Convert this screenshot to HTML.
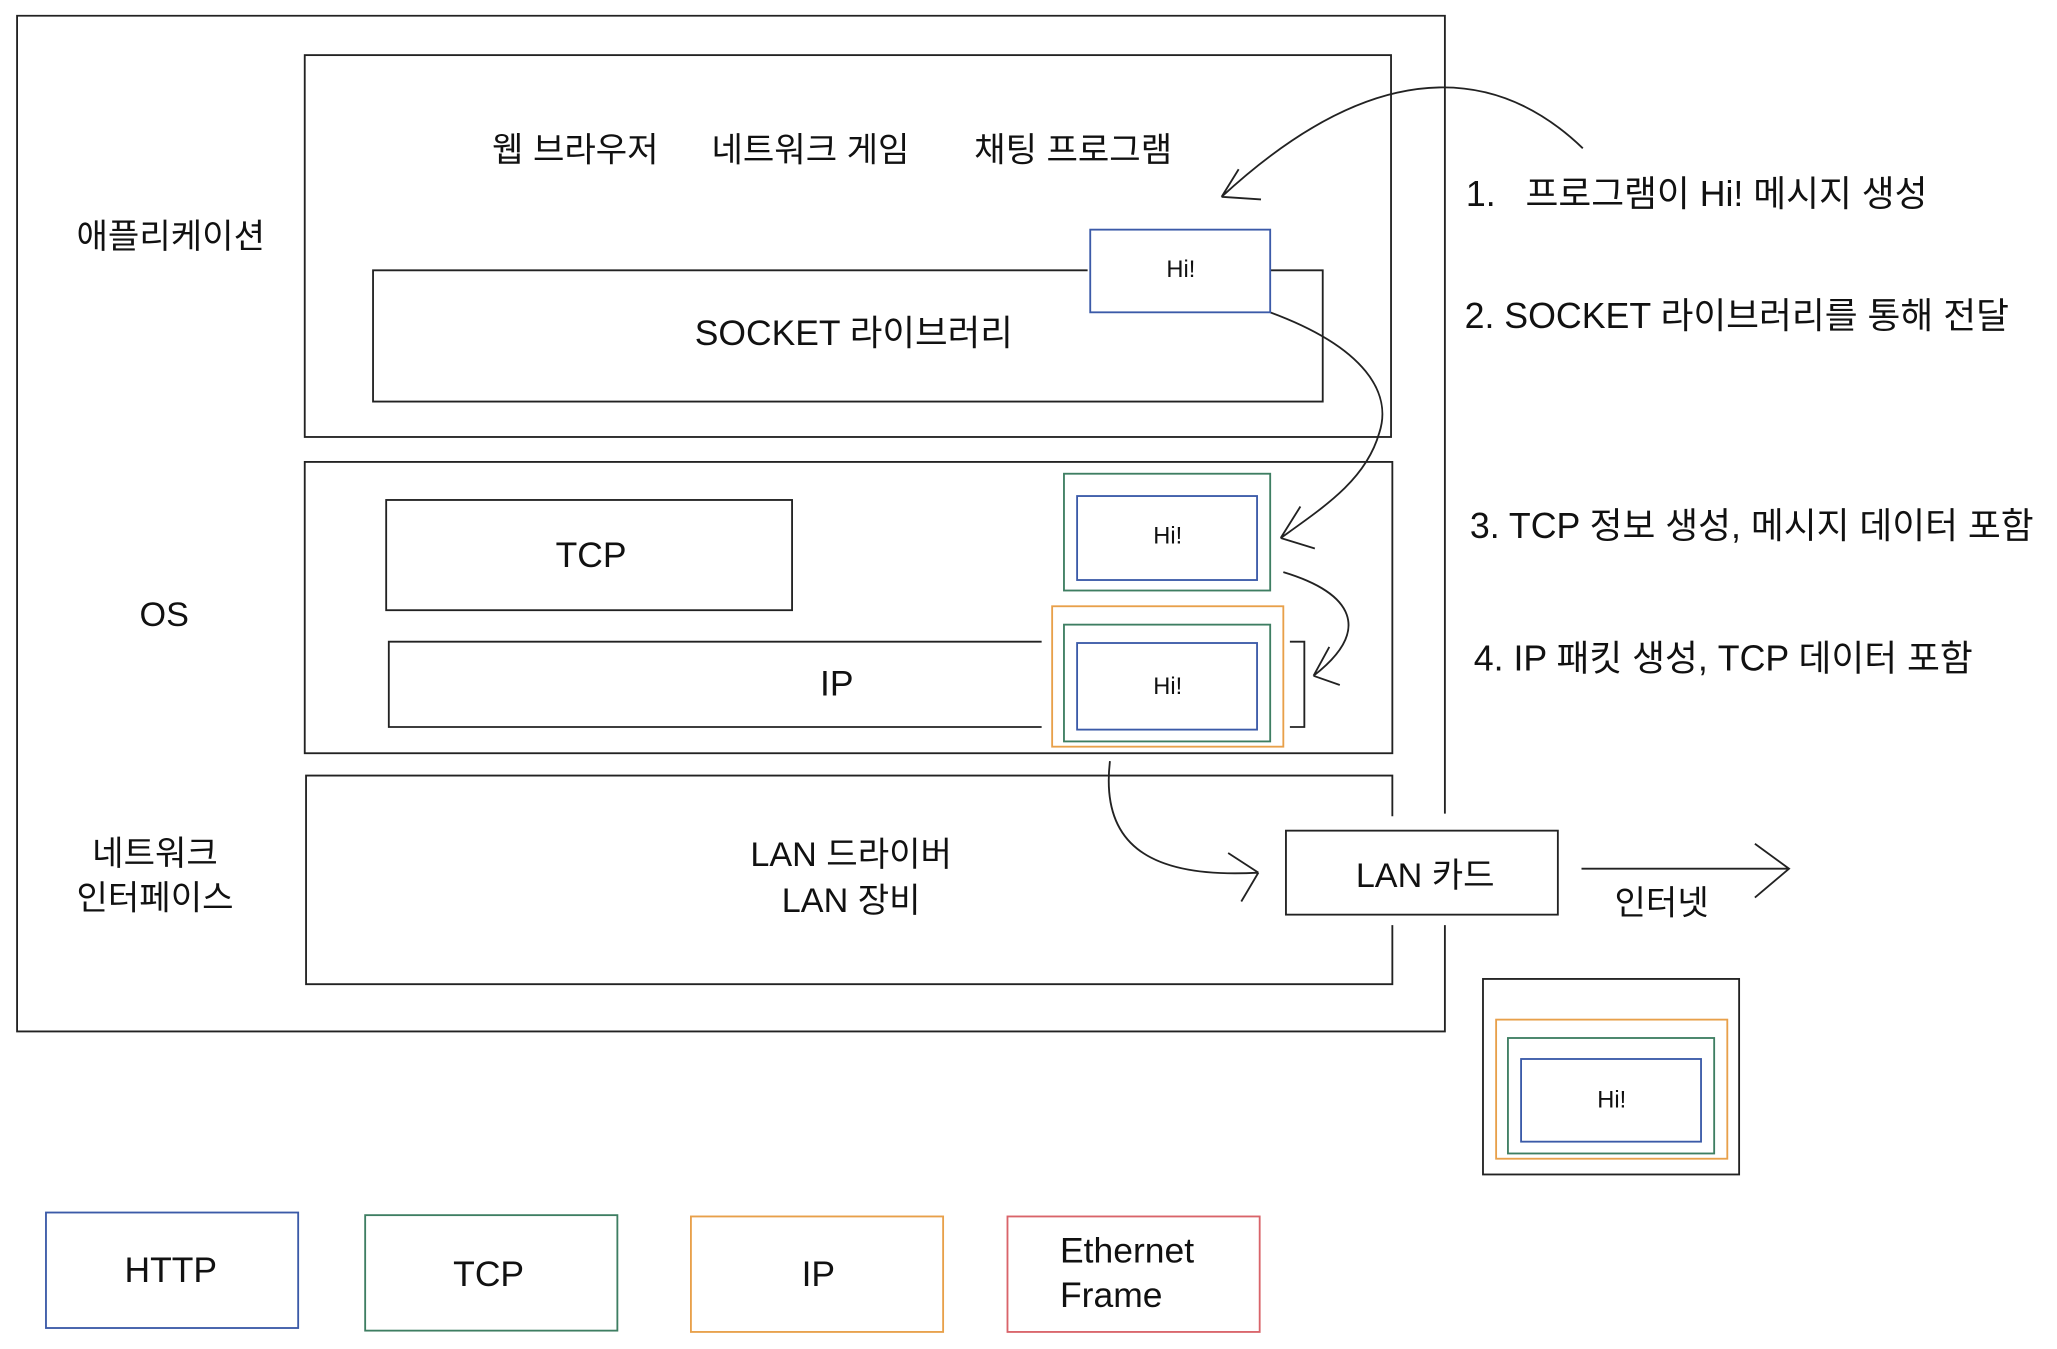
<!DOCTYPE html>
<html><head><meta charset="utf-8"><style>
html,body{margin:0;padding:0;background:#fff;}
svg{display:block;}
text{font-family:"Liberation Sans","Noto Sans CJK KR",sans-serif;fill:#111;}
</style></head><body>
<svg width="2057" height="1349" viewBox="0 0 1566 1028" preserveAspectRatio="none" xmlns="http://www.w3.org/2000/svg">
<g fill="none" stroke="#222" stroke-width="1.4">
<path d="M1100,620 L1100,12 L13,12 L13,786 L1100,786 L1100,705"/>
<rect x="232" y="42" width="827" height="291"/>
<path d="M828,206 L284,206 L284,306 L1007,306 L1007,206 L967,206"/>
<rect x="232" y="352" width="828" height="222"/>
<rect x="294" y="381" width="309" height="84"/>
<path d="M793,489 L296,489 L296,554 L793,554"/>
<path d="M982,489 L993,489 L993,554 L982,554"/>
<path d="M1060,622 L1060,591 L233,591 L233,750 L1060,750 L1060,705"/>
<rect x="979" y="633" width="207" height="64"/>
<path d="M1204,662 L1362,662 M1336,643 L1362,662 L1336,684"/>
<rect x="1129" y="746" width="195" height="149"/>
<path d="M1205,113 C1150,60 1060,30 930,150 M930,150 L943,129 M930,150 L960,152"/>
<path d="M967,238 C1040,265 1060,300 1050,330 C1040,365 1010,385 975,410 M975,410 L990,386 M975,410 L1001,418"/>
<path d="M977,436 C1030,452 1045,480 1000,515 M1000,515 L1012,493 M1000,515 L1020,522"/>
<path d="M845,580 C838,640 870,670 958,665 M958,665 L935,650 M958,665 L945,687"/>
</g>
<g fill="none" stroke-width="1.4">
<rect x="830" y="175" width="137" height="63" stroke="#3b5aa8"/>
<rect x="810" y="361" width="157" height="89" stroke="#3e7e62"/>
<rect x="820" y="378" width="137" height="64" stroke="#3b5aa8"/>
<rect x="801" y="462" width="176" height="107" stroke="#e8a04a"/>
<rect x="810" y="476" width="157" height="89" stroke="#3e7e62"/>
<rect x="820" y="490" width="137" height="66" stroke="#3b5aa8"/>
<rect x="1139" y="777" width="176" height="106" stroke="#e8a04a"/>
<rect x="1148" y="791" width="157" height="88" stroke="#3e7e62"/>
<rect x="1158" y="807" width="137" height="63" stroke="#3b5aa8"/>
<rect x="35" y="924" width="192" height="88" stroke="#3b5aa8"/>
<rect x="278" y="926" width="192" height="88" stroke="#3e7e62"/>
<rect x="526" y="927" width="192" height="88" stroke="#e8a04a"/>
<rect x="767" y="927" width="192" height="88" stroke="#d9646a"/>
</g>
<g font-size="26" text-anchor="middle">
<text x="438" y="123">웹 브라우저</text>
<text x="617" y="123">네트워크 게임</text>
<text x="817" y="123">채팅 프로그램</text>
<text x="130" y="189">애플리케이션</text>
<text x="650" y="263" font-size="27">SOCKET 라이브러리</text>
<text x="450" y="432" font-size="27">TCP</text>
<text x="637" y="530" font-size="27">IP</text>
<text x="125" y="477">OS</text>
<text x="118" y="659">네트워크</text>
<text x="118" y="693">인터페이스</text>
<text x="648" y="660">LAN 드라이버</text>
<text x="648" y="695">LAN 장비</text>
<text x="1085" y="676">LAN 카드</text>
<text x="1265" y="697">인터넷</text>
<text x="130" y="977" font-size="27">HTTP</text>
<text x="372" y="980" font-size="27">TCP</text>
<text x="623" y="980" font-size="27">IP</text>
</g>
<g font-size="18" text-anchor="middle">
<text x="899" y="211">Hi!</text>
<text x="889" y="414">Hi!</text>
<text x="889" y="529">Hi!</text>
<text x="1227" y="844">Hi!</text>
</g>
<g font-size="27.2">
<text x="807" y="962" font-size="27">Ethernet</text>
<text x="807" y="996" font-size="27">Frame</text>
<text x="1116" y="157">1.&#160;&#160; 프로그램이 Hi! 메시지 생성</text>
<text x="1115" y="250">2. SOCKET 라이브러리를 통해 전달</text>
<text x="1119" y="410">3. TCP 정보 생성, 메시지 데이터 포함</text>
<text x="1122" y="511">4. IP 패킷 생성, TCP 데이터 포함</text>
</g>
</svg>
</body></html>
